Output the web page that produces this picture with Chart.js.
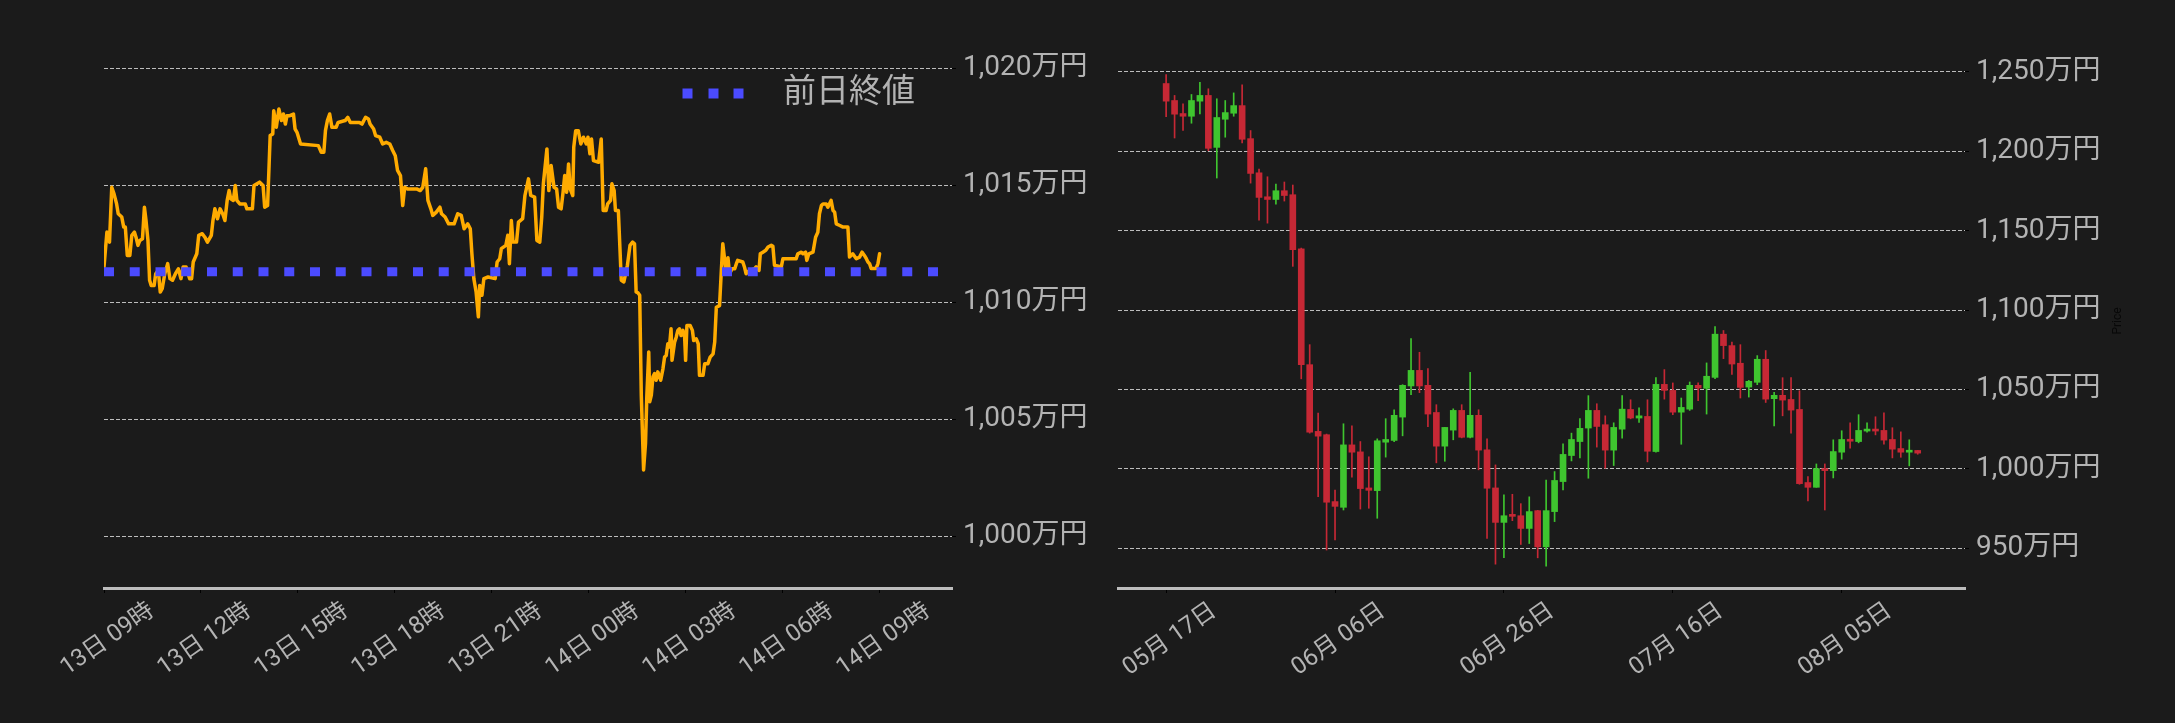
<!DOCTYPE html>
<html>
<head>
<meta charset="utf-8">
<script src="https://cdn.jsdelivr.net/npm/chart.js@4.4.1/dist/chart.umd.min.js"></script>
<style>
  html, body { margin: 0; padding: 0; background: #1b1b1b; }
  body { width: 2175px; height: 723px; position: relative; overflow: hidden; }
  canvas { position: absolute; top: 0; }
  #intraday { left: 0; }
  #daily { left: 1100px; }
</style>
</head>
<body>
<canvas id="intraday" width="1100" height="723"></canvas>
<canvas id="daily" width="1075" height="723"></canvas>
<script>
// ---- intraday (13日 09時 -> 14日 09時), x = hours since 13日 09:00, y = 万円
const intradayHours = [
  0.00, 0.09, 0.17, 0.24, 0.31, 0.39, 0.44, 0.55, 0.61, 0.66, 0.72, 0.80, 0.86, 0.94, 0.99,
  1.05, 1.11, 1.19, 1.25, 1.30, 1.36, 1.41, 1.46, 1.55, 1.60, 1.68, 1.74, 1.80, 1.88, 1.97,
  2.04, 2.12, 2.21, 2.30, 2.38, 2.45, 2.54, 2.65, 2.71, 2.76, 2.87, 2.93, 3.04, 3.12, 3.20,
  3.32, 3.37, 3.43, 3.51, 3.59, 3.67, 3.74, 3.81, 3.87, 3.92, 4.00, 4.06, 4.11, 4.20, 4.37,
  4.42, 4.59, 4.64, 4.81, 4.92, 4.97, 5.06, 5.11, 5.14, 5.22, 5.25, 5.33, 5.41, 5.49, 5.55,
  5.61, 5.66, 5.75, 5.86, 5.91, 5.97, 6.08, 6.63, 6.72, 6.80, 6.85, 6.91, 6.98, 7.05, 7.18,
  7.24, 7.46, 7.54, 7.62, 7.90, 7.98, 8.09, 8.18, 8.23, 8.34, 8.40, 8.53, 8.62, 8.73, 8.84,
  8.93, 9.01, 9.08, 9.17, 9.24, 9.30, 9.39, 9.67, 9.78, 9.86, 9.95, 10.02, 10.11, 10.17, 10.28,
  10.39, 10.44, 10.55, 10.66, 10.83, 10.94, 11.05, 11.14, 11.25, 11.33, 11.38, 11.44, 11.51, 11.58, 11.62,
  11.69, 11.75, 11.88, 12.10, 12.16, 12.24, 12.29, 12.43, 12.49, 12.54, 12.60, 12.65, 12.76, 12.82, 12.95,
  13.02, 13.13, 13.20, 13.32, 13.39, 13.48, 13.54, 13.59, 13.70, 13.76, 13.83, 13.92, 14.00, 14.06, 14.14,
  14.20, 14.25, 14.31, 14.37, 14.42, 14.50, 14.53, 14.59, 14.67, 14.75, 14.83, 14.92, 14.97, 15.03, 15.08,
  15.14, 15.30, 15.38, 15.44, 15.53, 15.58, 15.67, 15.71, 15.78, 15.82, 15.91, 16.00, 16.08, 16.19, 16.27,
  16.35, 16.41, 16.46, 16.52, 16.57, 16.62, 16.69, 16.75, 16.79, 16.85, 16.88, 16.93, 16.98, 17.03, 17.08,
  17.13, 17.22, 17.29, 17.34, 17.39, 17.44, 17.49, 17.54, 17.57, 17.65, 17.70, 17.75, 17.80, 17.85, 17.91,
  17.96, 17.99, 18.03, 18.13, 18.20, 18.24, 18.32, 18.38, 18.42, 18.53, 18.58, 18.68, 18.75, 18.84, 18.89,
  18.94, 19.04, 19.09, 19.14, 19.20, 19.25, 19.30, 19.35, 19.43, 19.51, 19.56, 19.60, 19.76, 19.81, 19.86,
  19.96, 20.12, 20.17, 20.26, 20.30, 20.38, 20.47, 20.54, 20.64, 20.69, 20.74, 20.95, 21.00, 21.41, 21.46,
  21.57, 21.62, 21.70, 21.74, 21.80, 21.93, 22.01, 22.08, 22.13, 22.19, 22.24, 22.34, 22.39, 22.49, 22.55,
  22.60, 22.65, 22.76, 22.86, 23.01, 23.06, 23.16, 23.27, 23.37, 23.45, 23.52, 23.58, 23.63, 23.68, 23.73,
  23.88, 23.94, 23.99
];
const intradayPrices = [
  1011.50, 1013.00, 1012.57, 1014.91, 1014.63, 1014.20, 1013.78, 1013.64, 1013.21, 1013.21, 1012.00, 1012.00, 1012.86, 1013.00, 1012.78,
  1012.43, 1012.64, 1012.71, 1014.06, 1013.49, 1012.64, 1010.94, 1010.72, 1010.72, 1011.22, 1011.36, 1010.44, 1010.58, 1011.22, 1011.65,
  1011.01, 1010.94, 1011.22, 1011.43, 1011.01, 1011.51, 1011.51, 1011.01, 1011.01, 1011.72, 1012.07, 1012.86, 1012.93, 1012.78, 1012.57,
  1012.86, 1013.49, 1013.99, 1013.57, 1013.99, 1013.78, 1013.49, 1014.35, 1014.77, 1014.42, 1014.35, 1014.99, 1014.35, 1014.20, 1014.20,
  1013.99, 1013.99, 1014.99, 1015.13, 1014.99, 1014.06, 1014.13, 1015.98, 1017.12, 1017.19, 1018.18, 1017.47, 1018.25, 1017.76, 1018.04,
  1017.61, 1017.97, 1017.97, 1018.04, 1017.40, 1017.26, 1016.76, 1016.69, 1016.41, 1016.41, 1017.33, 1017.76, 1018.04, 1017.47, 1017.47,
  1017.68, 1017.76, 1017.90, 1017.68, 1017.68, 1017.61, 1017.90, 1017.83, 1017.61, 1017.40, 1017.12, 1017.05, 1016.76, 1016.83, 1016.76,
  1016.48, 1016.26, 1015.63, 1015.41, 1014.13, 1014.91, 1014.84, 1014.84, 1014.77, 1014.91, 1015.70, 1014.35, 1013.99, 1013.71, 1013.85,
  1014.06, 1013.78, 1013.64, 1013.35, 1013.35, 1013.78, 1013.71, 1013.14, 1013.35, 1013.14, 1012.07, 1011.01, 1010.44, 1009.38, 1010.72,
  1010.30, 1011.01, 1011.08, 1011.01, 1011.72, 1011.86, 1012.29, 1012.43, 1012.86, 1011.65, 1013.49, 1012.57, 1012.57, 1013.42, 1013.57,
  1014.56, 1015.27, 1014.56, 1014.49, 1012.64, 1012.57, 1013.64, 1015.06, 1016.55, 1014.77, 1015.84, 1014.91, 1014.84, 1014.06, 1013.99,
  1014.70, 1015.41, 1014.70, 1015.91, 1014.84, 1014.56, 1016.62, 1017.33, 1017.33, 1016.76, 1017.05, 1016.76, 1017.05, 1016.34, 1016.97,
  1016.05, 1015.98, 1016.97, 1013.92, 1013.92, 1014.20, 1014.35, 1015.06, 1014.77, 1013.92, 1013.92, 1010.94, 1010.87, 1011.58, 1012.43,
  1012.57, 1012.50, 1010.44, 1010.40, 1010.30, 1006.00, 1002.84, 1003.98, 1005.96, 1007.88, 1005.75, 1006.04, 1006.82, 1006.96, 1006.67,
  1007.03, 1006.67, 1007.17, 1007.66, 1007.73, 1008.23, 1008.09, 1008.87, 1007.52, 1008.30, 1008.51, 1008.80, 1008.87, 1008.58, 1008.80,
  1008.51, 1007.52, 1009.01, 1009.01, 1008.80, 1008.37, 1008.44, 1008.23, 1006.88, 1006.88, 1007.38, 1007.38, 1007.66, 1007.80, 1008.30,
  1009.79, 1009.86, 1011.22, 1012.50, 1011.80, 1011.22, 1011.90, 1011.22, 1011.43, 1011.43, 1011.65, 1011.79, 1011.72, 1011.51, 1011.22,
  1011.36, 1011.43, 1011.51, 1011.36, 1012.07, 1012.14, 1012.22, 1012.36, 1012.43, 1012.39, 1011.58, 1011.51, 1011.86, 1011.86, 1012.07,
  1012.14, 1012.07, 1012.14, 1011.79, 1012.07, 1012.14, 1012.78, 1012.99, 1013.78, 1014.13, 1014.20, 1014.20, 1014.06, 1014.35, 1013.92,
  1013.85, 1013.35, 1013.28, 1013.21, 1013.21, 1011.93, 1012.07, 1011.86, 1011.93, 1012.14, 1012.00, 1011.86, 1011.72, 1011.65, 1011.44,
  1011.44, 1011.65, 1012.07
];
const prevClose = 1011.3;
const intradayRange = [0, 26.23];
const intradayYRange = [997.8, 1021.2];
const intradayXTicks = [0, 3, 6, 9, 12, 15, 18, 21, 24];
const intradayXLabels = ['13日 09時', '13日 12時', '13日 15時', '13日 18時', '13日 21時', '14日 00時', '14日 03時', '14日 06時', '14日 09時'];
const intradayYTicks = [1000, 1005, 1010, 1015, 1020];

// ---- daily candles, x = day index from 05月 17日
const candleOpen = [
  1242.6, 1231.9, 1223.7, 1222.0, 1231.5, 1235.1, 1202.4, 1220.1, 1223.9, 1228.7,
  1207.9, 1186.4, 1171.3, 1169.6, 1175.1, 1172.6, 1138.5, 1065.6, 1023.6, 1021.5,
  979.4, 975.8, 1015.1, 1010.7, 988.0, 986.3, 1016.8, 1017.9, 1032.6, 1052.2,
  1062.0, 1052.6, 1035.5, 1014.3, 1024.4, 1036.8, 1019.9, 1033.7, 1012.0, 988.0,
  966.3, 971.2, 970.5, 962.5, 973.7, 950.9, 973.1, 992.0, 1008.4, 1017.2,
  1025.7, 1036.8, 1027.8, 1011.8, 1025.0, 1037.4, 1032.0, 1033.0, 1010.9, 1053.2,
  1049.4, 1035.7, 1037.6, 1052.6, 1050.7, 1057.6, 1084.8, 1077.6, 1066.5, 1051.5,
  1054.5, 1069.0, 1044.2, 1046.3, 1043.7, 1037.4, 991.4, 988.4, 1000.0, 998.9,
  1010.5, 1018.5, 1017.2, 1023.8, 1024.8, 1024.2, 1018.5, 1012.8, 1010.5, 1011.6
];
const candleHigh = [
  1248.3, 1235.1, 1229.8, 1235.7, 1243.3, 1239.3, 1233.0, 1231.9, 1236.7, 1241.8,
  1213.0, 1188.8, 1183.9, 1179.3, 1180.6, 1178.7, 1139.0, 1078.2, 1035.1, 1021.9,
  986.7, 1028.4, 1027.1, 1017.2, 1007.6, 1018.9, 1031.6, 1037.2, 1053.0, 1082.0,
  1073.4, 1063.1, 1040.4, 1026.1, 1037.8, 1040.4, 1060.8, 1037.2, 1018.9, 1002.5,
  983.6, 984.0, 978.1, 982.4, 973.9, 993.0, 998.3, 1015.8, 1022.5, 1031.6,
  1046.1, 1041.0, 1033.4, 1029.0, 1046.1, 1043.5, 1038.5, 1043.5, 1057.4, 1062.5,
  1054.1, 1044.6, 1054.7, 1054.1, 1066.7, 1089.6, 1087.1, 1079.9, 1078.2, 1055.7,
  1071.3, 1074.5, 1048.2, 1057.4, 1057.4, 1049.2, 995.1, 1003.1, 1003.1, 1018.3,
  1024.0, 1029.0, 1034.1, 1029.0, 1032.8, 1035.3, 1025.9, 1023.3, 1018.3, 1011.6
];
const candleLow = [
  1221.8, 1208.3, 1213.0, 1217.6, 1223.5, 1200.3, 1183.1, 1208.8, 1222.0, 1205.2,
  1179.9, 1156.6, 1154.7, 1166.7, 1168.6, 1127.5, 1056.7, 1022.5, 982.5, 948.9,
  955.2, 974.1, 994.7, 974.7, 975.2, 968.9, 1007.4, 1017.2, 1020.8, 1046.7,
  1048.0, 1026.5, 1003.8, 1004.8, 1018.3, 1019.5, 1019.5, 999.4, 956.2, 940.0,
  944.1, 967.4, 952.4, 953.0, 944.0, 938.7, 966.8, 986.7, 1005.0, 1006.9,
  994.1, 1013.7, 1000.4, 1002.1, 1019.3, 1031.5, 1029.2, 1004.4, 1010.5, 1043.9,
  1034.1, 1015.5, 1036.8, 1042.9, 1034.5, 1056.8, 1069.4, 1059.5, 1044.6, 1045.2,
  1053.0, 1041.8, 1027.1, 1033.4, 1022.5, 990.3, 979.8, 988.4, 974.1, 994.3,
  1006.1, 1013.0, 1016.4, 1023.1, 1021.4, 1015.5, 1006.9, 1007.3, 1001.9, 1009.2
];
const candleClose = [
  1231.5, 1223.3, 1222.0, 1231.9, 1235.1, 1201.8, 1221.2, 1224.3, 1228.7, 1207.5,
  1186.0, 1170.9, 1169.6, 1175.1, 1172.1, 1138.0, 1065.6, 1023.1, 1020.6, 979.0,
  976.4, 1015.1, 1010.5, 987.6, 986.5, 1017.7, 1018.5, 1033.7, 1052.6, 1062.0,
  1052.2, 1034.5, 1014.3, 1026.1, 1036.8, 1019.9, 1033.7, 1011.8, 987.8, 966.3,
  970.5, 970.1, 962.5, 973.1, 950.9, 973.7, 992.7, 1009.1, 1018.5, 1025.5,
  1036.8, 1026.7, 1011.8, 1026.1, 1037.6, 1032.0, 1033.4, 1011.1, 1053.2, 1049.4,
  1035.7, 1038.7, 1052.6, 1050.9, 1058.3, 1084.8, 1077.6, 1066.0, 1051.3, 1055.1,
  1069.0, 1043.9, 1046.3, 1043.3, 1037.0, 990.7, 988.4, 1000.2, 998.9, 1010.9,
  1018.5, 1017.4, 1024.2, 1024.8, 1023.8, 1018.1, 1012.4, 1010.5, 1011.6, 1009.9
];
const dailyRange = [-5.7, 94.6];
const dailyYRange = [925, 1270];
const dailyXTicks = [0, 20, 40, 60, 80];
const dailyXLabels = ['05月 17日', '06月 06日', '06月 26日', '07月 16日', '08月 05日'];
const dailyYTicks = [950, 1000, 1050, 1100, 1150, 1200, 1250];

const FONT = "Roboto, 'Noto Sans CJK JP', sans-serif";
const TEXT = '#b3b3b3';
const GRID = '#bdbdbd';
const UP = '#3fc52f';
const DOWN = '#c62835';

Chart.defaults.font.family = FONT;
Chart.defaults.color = TEXT;

const yen = v => v.toLocaleString('en-US') + '万円';

// x axis: fixed height, no extra side padding from the rotated labels
const fitXAxis = s => {
  s.height = 135;
  s.paddingLeft = 0;
  s.paddingRight = 0;
};

// the chartArea legend is laid out as a column; park it in the top-right corner of the plot
const legendInArea = {
  id: 'legendInArea',
  beforeDraw(chart) {
    const lg = chart.legend;
    if (!lg || lg.options.position !== 'chartArea') return;
    const { ctx, chartArea } = chart;
    const lo = lg.options.labels;
    const size = lo.font.size;
    ctx.save();
    ctx.font = size + 'px ' + FONT;
    const textW = Math.max(...lg.legendItems.map(it => ctx.measureText(it.text).width));
    ctx.restore();
    const itemW = lo.pointStyleWidth + size / 2 + textW;
    lg.left = chartArea.right - lo.padding - itemW - lo.padding;
    lg.right = chartArea.right;
    lg.top = chartArea.top;
    lg.bottom = chartArea.bottom;
  }
};

new Chart(document.getElementById('intraday'), {
  type: 'line',
  data: {
    datasets: [
      {
        label: '前日終値',
        data: [{ x: intradayRange[0], y: prevClose }, { x: intradayRange[1], y: prevClose }],
        borderColor: '#4b4bff',
        backgroundColor: '#4b4bff',
        borderWidth: 9,
        borderDash: [10, 15.75],
        borderCapStyle: 'butt',
        pointRadius: 0
      },
      {
        label: 'price',
        data: intradayHours.map((h, i) => ({ x: h, y: intradayPrices[i] })),
        borderColor: '#ffab00',
        borderWidth: 3.5,
        borderJoinStyle: 'round',
        borderCapStyle: 'round',
        pointRadius: 0,
        tension: 0
      }
    ]
  },
  options: {
    responsive: false,
    animation: false,
    layout: { padding: { left: 104, top: 40, right: 0, bottom: 0 } },
    plugins: {
      tooltip: { enabled: false },
      legend: {
        position: 'chartArea',
        align: 'start',
        labels: {
          color: TEXT,
          font: { size: 33 },
          padding: 37,
          usePointStyle: true,
          pointStyleWidth: 84,
          generateLabels(chart) {
            return Chart.defaults.plugins.legend.labels.generateLabels(chart)
              .filter(item => item.text === '前日終値')
              .map(item => Object.assign(item, {
                pointStyle: 'line',
                lineWidth: 10,
                lineCap: 'butt',
                lineDash: [10, 16, 10, 15, 10, 100],
                strokeStyle: '#4b4bff'
              }));
          }
        }
      }
    },
    scales: {
      x: {
        type: 'linear',
        min: intradayRange[0],
        max: intradayRange[1],
        afterBuildTicks: s => { s.ticks = intradayXTicks.map(v => ({ value: v })); },
        afterFit: fitXAxis,
        ticks: {
          autoSkip: false, minRotation: 35, maxRotation: 35, padding: 4, labelOffset: 48,
          color: TEXT, font: { size: 24 },
          callback: (v, i) => intradayXLabels[i]
        },
        grid: { drawOnChartArea: false, tickLength: 5, tickColor: '#000', color: '#000' },
        border: { display: true, color: GRID, width: 3 }
      },
      y: {
        position: 'right',
        min: intradayYRange[0],
        max: intradayYRange[1],
        afterBuildTicks: s => { s.ticks = intradayYTicks.map(v => ({ value: v })); },
        afterFit: s => { s.width = 148; },
        ticks: { padding: 7, color: TEXT, font: { size: 28 }, callback: v => yen(v) },
        grid: { color: GRID, lineWidth: 1, tickLength: 4, tickColor: '#000' },
        border: { display: false, dash: [4, 2] }
      }
    }
  },
  plugins: [legendInArea]
});

// small dark axis caption on the candle chart
const priceCaption = {
  id: 'priceCaption',
  afterDraw(chart) {
    const { ctx, chartArea } = chart;
    ctx.save();
    ctx.translate(chartArea.right + 153, (chartArea.top + chartArea.bottom) / 2 + 7);
    ctx.rotate(-Math.PI / 2);
    ctx.font = '12px ' + FONT;
    ctx.fillStyle = '#080808';
    ctx.textAlign = 'center';
    ctx.textBaseline = 'middle';
    ctx.fillText('Price', 0, 0);
    ctx.restore();
  }
};

const candleColors = candleClose.map((c, i) => (c >= candleOpen[i] ? UP : DOWN));

new Chart(document.getElementById('daily'), {
  type: 'bar',
  data: {
    datasets: [
      {
        label: 'body',
        data: candleOpen.map((o, i) => ({ x: i, y: [o, candleClose[i]] })),
        backgroundColor: candleColors,
        barThickness: 6,
        minBarLength: 2,
        grouped: false
      },
      {
        label: 'wick',
        data: candleLow.map((l, i) => ({ x: i, y: [l, candleHigh[i]] })),
        backgroundColor: candleColors,
        barThickness: 1,
        grouped: false
      }
    ]
  },
  options: {
    responsive: false,
    animation: false,
    layout: { padding: { left: 18, top: 40, right: 0, bottom: 0 } },
    plugins: { legend: { display: false }, tooltip: { enabled: false } },
    scales: {
      x: {
        type: 'linear',
        offset: false,
        min: dailyRange[0],
        max: dailyRange[1],
        afterBuildTicks: s => { s.ticks = dailyXTicks.map(v => ({ value: v })); },
        afterFit: fitXAxis,
        ticks: {
          autoSkip: false, minRotation: 35, maxRotation: 35, padding: 4, labelOffset: 48,
          color: TEXT, font: { size: 24 },
          callback: (v, i) => dailyXLabels[i]
        },
        grid: { offset: false, drawOnChartArea: false, tickLength: 5, tickColor: '#000', color: '#000' },
        border: { display: true, color: GRID, width: 3 }
      },
      y: {
        position: 'right',
        min: dailyYRange[0],
        max: dailyYRange[1],
        afterBuildTicks: s => { s.ticks = dailyYTicks.map(v => ({ value: v })); },
        afterFit: s => { s.width = 210; },
        ticks: { padding: 7, color: TEXT, font: { size: 28 }, callback: v => yen(v) },
        grid: { color: GRID, lineWidth: 1, tickLength: 4, tickColor: '#000' },
        border: { display: false, dash: [4, 2] }
      }
    }
  },
  plugins: [priceCaption]
});
</script>
</body>
</html>
